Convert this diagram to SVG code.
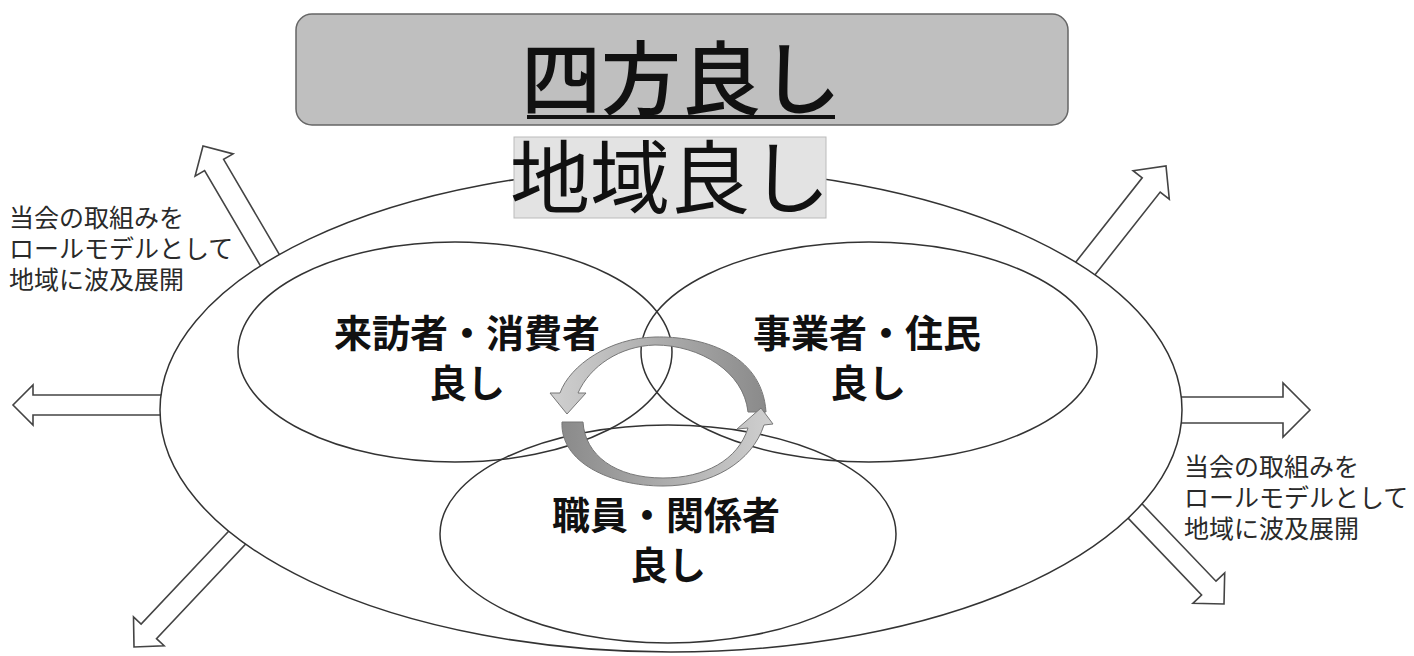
<svg xmlns="http://www.w3.org/2000/svg" width="1414" height="656" viewBox="0 0 1414 656">
<style>
.jp{font-family:"Noto Sans CJK JP","Noto Sans CJK SC",sans-serif;fill:#111}
.blk{fill:#fff;stroke:#444;stroke-width:1.6;stroke-linejoin:miter}
.ell{fill:none;stroke:#333;stroke-width:1.5}
.side{font-size:25px;fill:#2a2a2a}
.lbl{font-size:38px;font-weight:bold;text-anchor:middle}
.cyc{stroke:#777;stroke-width:1}
</style>
<defs>
<linearGradient id="gTop" x1="1" y1="0" x2="0" y2="0">
<stop offset="0" stop-color="#8a8a8a"/><stop offset="1" stop-color="#d0d0d0"/>
</linearGradient>
<linearGradient id="gBot" x1="0" y1="0" x2="1" y2="0">
<stop offset="0" stop-color="#8a8a8a"/><stop offset="1" stop-color="#d0d0d0"/>
</linearGradient>
</defs>
<rect width="1414" height="656" fill="#fff"/>
<g id="connectors">
<polygon class="blk" points="170,395 33,395 33,385 13,405 33,425 33,415 170,415"/>
<polygon class="blk" points="1170,397 1283,397 1283,383 1310,410 1283,437 1283,423 1170,423"/>
<polygon class="blk" points="285.1,264.3 223.6,159.4 233.1,153.9 203,146 195.1,176.1 204.6,170.6 266.1,275.5"/>
<polygon class="blk" points="1086.2,285.9 1160.2,192.0 1169.3,199.1 1166,166 1133.1,170.7 1142.2,177.8 1068.2,271.7"/>
<polygon class="blk" points="1120.9,510.6 1201.6,595.0 1192.9,603.3 1224,604 1224.7,572.9 1216.0,581.2 1135.3,496.8"/>
<polygon class="blk" points="237.6,521.8 141.1,624.0 133.5,616.9 134,647 164.1,645.7 156.5,638.6 253.0,536.4"/>
</g>
<g id="region">
<ellipse cx="671" cy="410" rx="511" ry="242" fill="#fff" stroke="#333" stroke-width="1.5"/>
</g>
<g id="visitors">
<ellipse class="ell" cx="455" cy="352" rx="217" ry="110"/>
<text class="jp lbl" x="467" y="347">来訪者・消費者</text>
<text class="jp lbl" x="467" y="397">良し</text>
</g>
<g id="business">
<ellipse class="ell" cx="869" cy="352" rx="228" ry="110"/>
<text class="jp lbl" x="867" y="347">事業者・住民</text>
<text class="jp lbl" x="868" y="397">良し</text>
</g>
<g id="staff">
<ellipse class="ell" cx="668" cy="534" rx="228" ry="109"/>
<text class="jp lbl" x="666" y="529">職員・関係者</text>
<text class="jp lbl" x="668" y="579">良し</text>
</g>
<g id="cycle">
<path class="cyc" fill="url(#gTop)" d="M766,412 C762,352 700,336 655,337 C610,338 570,365 560,393 L550,393 L567,414 L586,393 L578,393 C590,366 620,346 655,345 C700,345 744,372 748,412 Z"/>
<path class="cyc" fill="url(#gBot)" d="M562,422 C560,462 610,486 663,486 C712,486 752,462 764,425 L773,424 L761,408 L737,429 L748,428 C738,460 705,478 663,478 C615,478 585,455 583,422 Z"/>
</g>
<g id="title">
<rect x="296" y="14" width="772" height="111" rx="16" fill="#bfbfbf" stroke="#666" stroke-width="1.5"/>
<text class="jp" x="681" y="108" font-size="80" font-weight="500" text-anchor="middle">四方良し</text>
<line x1="527" y1="117" x2="835" y2="117" stroke="#111" stroke-width="4"/>
</g>
<g id="local">
<rect x="514" y="137" width="312" height="81" fill="#e3e3e3" stroke="#bbb" stroke-width="1"/>
<text class="jp" x="670" y="207" font-size="80" text-anchor="middle">地域良し</text>
</g>
<g id="note-left">
<text class="jp side" x="9" y="227">当会の取組みを</text>
<text class="jp side" x="9" y="258">ロールモデルとして</text>
<text class="jp side" x="9" y="289">地域に波及展開</text>
</g>
<g id="note-right">
<text class="jp side" x="1184" y="476">当会の取組みを</text>
<text class="jp side" x="1184" y="507">ロールモデルとして</text>
<text class="jp side" x="1184" y="538">地域に波及展開</text>
</g>
</svg>
